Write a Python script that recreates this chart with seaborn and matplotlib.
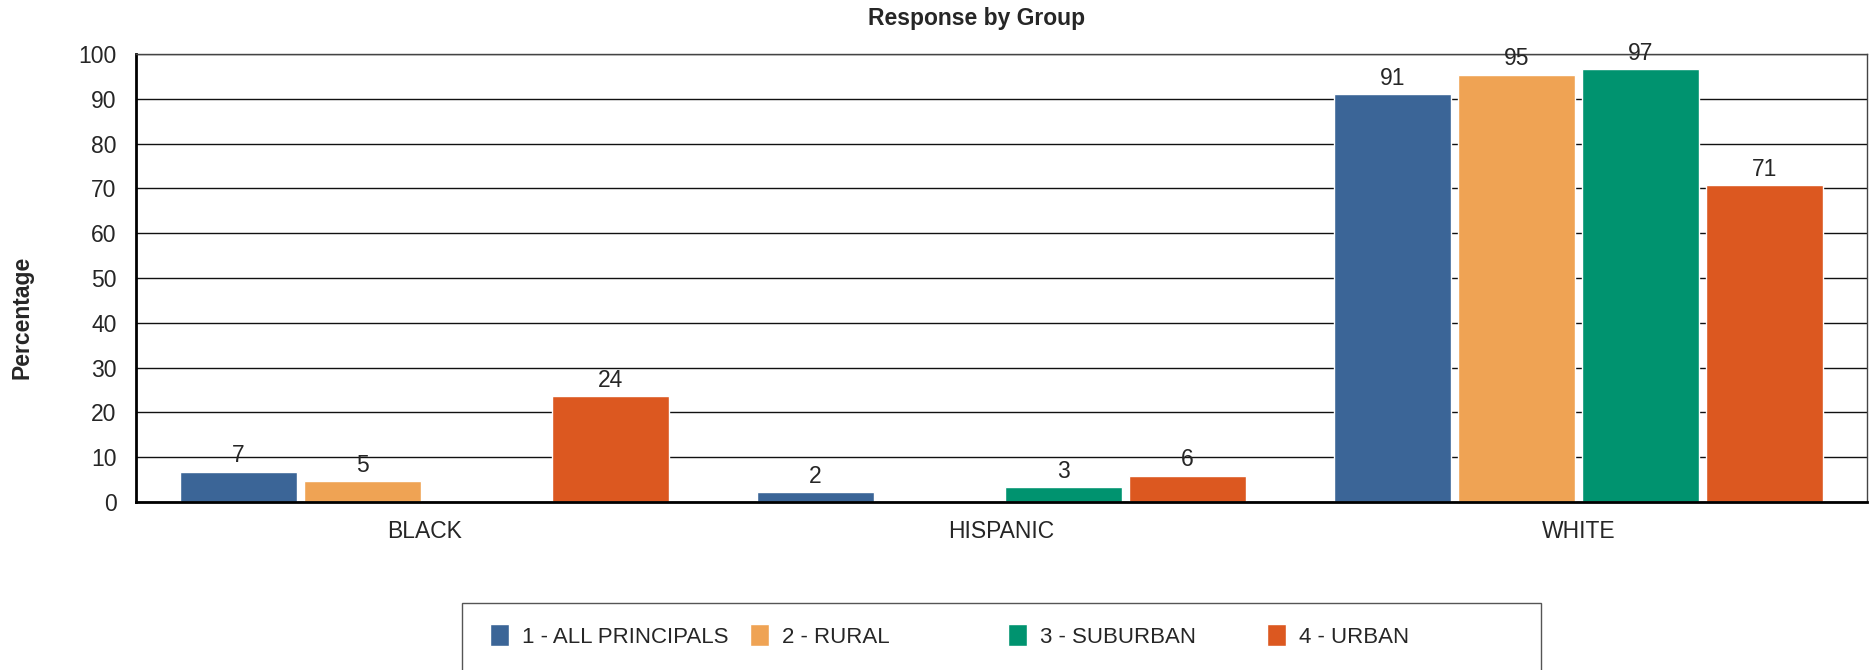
import numpy as np
import pandas as pd
import matplotlib
matplotlib.use("Agg")
import matplotlib.pyplot as plt
import seaborn as sns
from matplotlib.patches import Patch, Rectangle

groups = ["BLACK", "HISPANIC", "WHITE"]
series = ["1 - ALL PRINCIPALS", "2 - RURAL", "3 - SUBURBAN", "4 - URBAN"]
all_principals = [6.8, 2.3, 91.0]
rural = [4.6, 0.0, 95.4]
suburban = [0.0, 3.4, 96.6]
urban = [23.6, 5.9, 70.7]
colors = ["#3B6597", "#EFA354", "#00936F", "#DC5820"]

sns.set_style("white")
plt.rcParams["font.family"] = ["Liberation Sans", "DejaVu Sans"]

rows = []
for name, vals in zip(series, [all_principals, rural, suburban, urban]):
    for g, v in zip(groups, vals):
        rows.append({"group": g, "series": name, "value": v})
df = pd.DataFrame(rows)

fs = 16

fig = plt.figure(figsize=(18.73, 6.70), dpi=100)
ax = fig.add_axes([136 / 1873, 1 - 502 / 670, 1731 / 1873, 448 / 670])

sns.barplot(data=df, x="group", y="value", hue="series", order=groups,
            hue_order=series, palette=colors, width=0.86, gap=0.06,
            saturation=1, ax=ax, legend=False)

for cont in ax.containers:
    labels = [f"{v:.0f}" if v > 0 else "" for v in cont.datavalues]
    ax.bar_label(cont, labels=labels, padding=3, fontsize=16.5)

ax.set_ylim(0, 100)
ax.set_yticks(range(0, 101, 10))
ax.yaxis.grid(True, color="#111111", linewidth=1)
ax.set_axisbelow(True)
ax.set_xlabel("")
ax.set_ylabel("")
ax.tick_params(axis="y", length=0, pad=14, labelsize=16.5)
ax.tick_params(axis="x", length=0, pad=13, labelsize=16.5)
for s in ["left", "bottom"]:
    ax.spines[s].set_color("black")
    ax.spines[s].set_linewidth(2)
for s in ["top", "right"]:
    ax.spines[s].set_color("#444444")
    ax.spines[s].set_linewidth(1)

fig.text(977 / 1873, 1 - 18 / 670, "Response by Group", ha="center", va="center",
         fontsize=16.5, fontweight="bold")
fig.text(22 / 1873, 1 - 317 / 670, "Percentage", ha="center", va="center",
         rotation=90, fontsize=16.5, fontweight="bold")

# legend box with evenly spaced entries
fig.patches.append(Rectangle((462 / 1873, -0.05), 1079 / 1873, (670 - 603) / 670 + 0.05,
                             transform=fig.transFigure, facecolor="white",
                             edgecolor="#555555", linewidth=1))
leg_x = [490, 750, 1008, 1267]
for name, c, x in zip(series, colors, leg_x):
    fig.legend(handles=[Patch(facecolor=c, label=name)], loc="center left",
               bbox_to_anchor=(x / 1873, 1 - 636 / 670), frameon=False,
               fontsize=fs, handlelength=0.85, handleheight=1.15,
               handletextpad=0.6, borderpad=0, borderaxespad=0)

fig.savefig("out.png", dpi=100)
